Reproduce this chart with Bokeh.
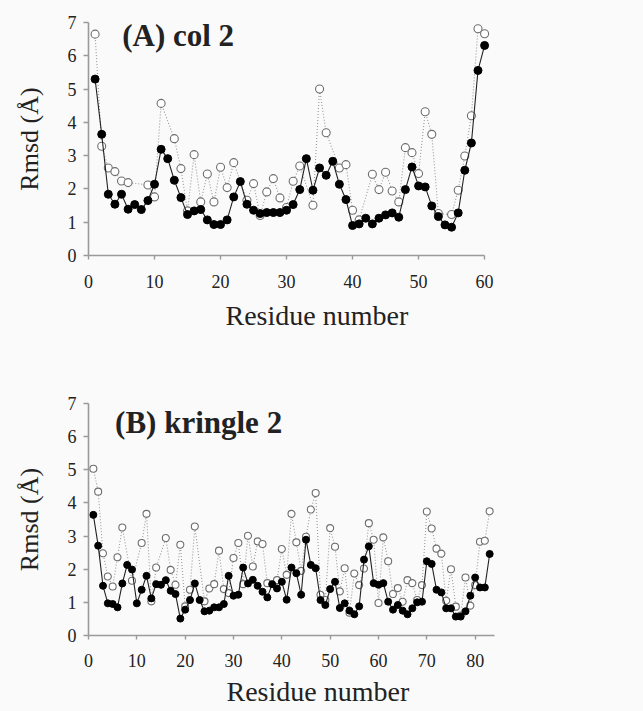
from bokeh.plotting import figure
from bokeh.layouts import column
from bokeh.models import Range1d, FixedTicker, Label, Title
from bokeh.embed import file_html
from bokeh.resources import INLINE

# ---- Panel A: col 2 ----
a_res = list(range(1, 61))
a_fill = [5.30, 3.64, 1.84, 1.54, 1.84, 1.39, 1.53, 1.38, 1.65, 2.14,
          3.19, 2.91, 2.26, 1.74, 1.23, 1.34, 1.38, 1.07, 0.93, 0.93,
          1.07, 1.76, 2.22, 1.54, 1.36, 1.26, 1.29, 1.29, 1.29, 1.36,
          1.53, 1.98, 2.91, 1.96, 2.63, 2.41, 2.83, 2.14, 1.68, 0.90,
          0.95, 1.12, 0.95, 1.12, 1.22, 1.28, 1.15, 1.98, 2.66, 2.09,
          2.06, 1.49, 1.17, 0.92, 0.85, 1.28, 2.56, 3.38, 5.56, 6.31]
a_open_res = [1, 2, 3, 4, 5, 6, 9, 10, 11, 13, 14, 15, 16, 17, 18, 19, 20, 21, 22,
              24, 25, 26, 27, 28, 29, 30, 31, 32, 34, 35, 36, 38, 39, 40, 41,
              43, 44, 45, 46, 47, 48, 49, 50, 51, 52, 53, 55, 56, 57, 58, 59, 60]
a_open = [6.65, 3.28, 2.63, 2.52, 2.24, 2.19, 2.12, 1.76, 4.57, 3.51, 2.61, 1.34,
          3.03, 1.61, 2.45, 1.61, 2.65, 2.04, 2.79,
          1.66, 2.16, 1.20, 1.91, 2.31, 1.73, 1.44, 2.23, 2.69, 1.51, 5.00, 3.69,
          2.63, 2.73, 1.36, 1.07,
          2.44, 1.98, 2.50, 1.94, 1.61, 3.24, 3.09, 2.46, 4.32, 3.64, 1.26,
          1.23, 1.96, 2.99, 4.20, 6.81, 6.66]

# ---- Panel B: kringle 2 ----
b_res = list(range(1, 84))
b_fill = [3.64, 2.71, 1.50, 0.97, 0.95, 0.85, 1.57, 2.13, 1.99, 0.97,
          1.38, 1.80, 1.12, 1.55, 1.53, 1.67, 1.35, 1.25, 0.51, 0.78,
          1.07, 1.57, 1.07, 0.73, 0.75, 0.85, 0.85, 0.95, 1.80, 1.20,
          1.23, 2.05, 1.57, 1.68, 1.50, 1.32, 1.15, 1.55, 1.42, 1.62,
          1.08, 2.05, 1.88, 1.23, 2.89, 2.13, 2.03, 1.07, 0.92, 1.40,
          1.62, 0.83, 0.97, 0.75, 0.64, 0.88, 2.29, 2.69, 1.58, 1.53,
          1.58, 1.02, 0.78, 0.92, 0.75, 0.64, 0.82, 1.00, 1.02, 2.24,
          2.16, 1.38, 1.30, 0.82, 0.82, 0.57, 0.57, 0.73, 1.20, 1.75,
          1.45, 1.45, 2.46]
b_open_res = [1, 2, 3, 4, 5, 6, 7, 9, 11, 12, 13, 14, 16, 17, 18, 19, 20, 21, 22,
              24, 25, 26, 27, 28, 29, 30, 31, 32, 33, 34, 35, 36, 37, 39, 40,
              41, 42, 43, 44, 45, 46, 47, 48, 49, 50, 51, 52, 53, 54, 55, 56,
              57, 58, 59, 60, 61, 62, 63, 64, 65, 66, 67, 68, 69, 70, 71, 72,
              73, 74, 75, 76, 77, 78, 79, 80, 81, 82, 83]
b_open = [5.03, 4.34, 2.48, 1.78, 1.48, 2.36, 3.26, 1.65, 2.79, 3.67, 1.03, 2.05,
          2.94, 1.98, 1.53, 2.74, 0.88, 1.38, 3.29,
          1.03, 1.42, 1.55, 2.56, 1.40, 1.28, 2.34, 2.79, 1.55, 3.01, 2.08,
          2.84, 2.76, 1.58, 1.67, 2.61,
          1.83, 3.67, 2.81, 1.95, 2.98, 3.80, 4.30, 1.23, 1.07, 3.24, 2.68,
          1.33, 2.03, 0.69, 1.87, 1.52,
          2.02, 3.39, 2.89, 0.98, 2.96, 2.24, 1.25, 1.43, 1.02, 1.67, 1.58,
          1.07, 1.52, 3.74, 3.23, 2.62,
          2.47, 1.05, 2.00, 0.87, 0.60, 1.75, 0.90, 1.52, 2.83, 2.86, 3.75]

y_ticks = [0, 1, 2, 3, 4, 5, 6, 7]
a_x_ticks = [0, 10, 20, 30, 40, 50, 60]
b_x_ticks = [0, 10, 20, 30, 40, 50, 60, 70, 80]

SERIF = "Liberation Serif"
BG = "#fafafa"
AXC = "#9a9a9a"


def make_panel(res, fill, ores, oval, xend, xticks, xbounds, width, height,
               mb, title, title_xy, xlabel_offset, msize, lab_so, tit_so):
    p = figure(width=width, height=height, output_backend="svg",
               toolbar_location=None, x_range=Range1d(0, xend),
               y_range=Range1d(0, 7),
               min_border_left=mb[0], min_border_right=mb[1],
               min_border_top=mb[2], min_border_bottom=mb[3])
    p.background_fill_color = BG
    p.border_fill_color = BG
    p.outline_line_color = None
    p.grid.visible = False

    p.line(ores, oval, line_color="#999999", line_width=1.1, line_dash="1 2")
    p.scatter(ores, oval, size=msize, marker="circle", fill_color="white",
              line_color="#6e6e6e", line_width=1.1)
    p.line(res, fill, line_color="#222222", line_width=1.1)
    p.scatter(res, fill, size=msize, marker="circle", fill_color="black",
              line_color="black")

    for ax in (p.xaxis, p.yaxis):
        ax.axis_line_color = AXC
        ax.axis_line_width = 1.6
        ax.major_tick_line_color = AXC
        ax.major_tick_line_width = 1.4
        ax.minor_tick_line_color = None
        ax.major_label_text_font = SERIF
        ax.major_label_text_font_size = "18px"
        ax.major_label_text_color = "#222222"
    p.xaxis.ticker = FixedTicker(ticks=xticks)
    p.xaxis.bounds = xbounds
    p.xaxis.major_tick_in = 0
    p.xaxis.major_tick_out = 4
    p.xaxis.major_label_standoff = lab_so
    p.yaxis.ticker = FixedTicker(ticks=y_ticks)
    p.yaxis.major_tick_in = 0
    p.yaxis.major_tick_out = 5
    p.yaxis.major_label_standoff = 7
    p.yaxis.axis_label = "Rmsd (Å)"
    p.yaxis.axis_label_text_font = SERIF
    p.yaxis.axis_label_text_font_style = "normal"
    p.yaxis.axis_label_text_font_size = "26px"
    p.yaxis.axis_label_text_color = "#222222"
    p.yaxis.axis_label_standoff = 21

    p.add_layout(Label(x=title_xy[0], y=title_xy[1], text=title,
                       text_font=SERIF, text_font_style="bold",
                       text_font_size="31px", text_color="#222222",
                       text_baseline="alphabetic"))
    p.add_layout(Title(text="Residue number", align="left",
                       offset=xlabel_offset, standoff=tit_so,
                       text_font=SERIF, text_font_style="normal",
                       text_font_size="28px", text_color="#222222"),
                 "below")
    return p


pa = make_panel(a_res, a_fill, a_open_res, a_open, 61.5, a_x_ticks, (0, 60),
                643, 360, (88, 149, 22, 105), "(A) col 2", (5.1, 6.62),
                137, 8, 15, 14)
pb = make_panel(b_res, b_fill, b_open_res, b_open, 84.0, b_x_ticks, (0, 84),
                643, 351, (87, 0, 43, 76), "(B) kringle 2", (5.5, 6.42),
                138, 7, 14, 8)

layout = column(pa, pb, spacing=0)
layout.styles = {"background-color": BG}

open("out.html", "w").write(file_html(layout, INLINE))
